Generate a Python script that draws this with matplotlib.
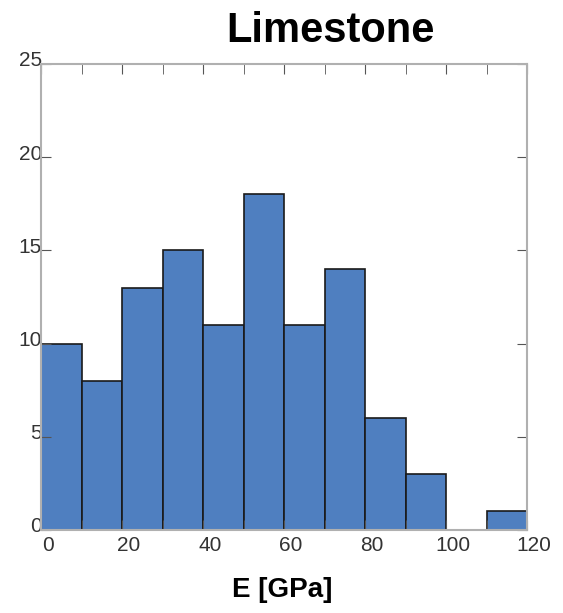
import matplotlib
matplotlib.use("Agg")
import matplotlib.pyplot as plt
from matplotlib.transforms import ScaledTranslation
import numpy as np

plt.rcParams['font.family'] = ['Liberation Sans', 'DejaVu Sans']

bin_edges = [0, 10, 20, 30, 40, 50, 60, 70, 80, 90, 100, 110, 120]
counts = [10, 8, 13, 15, 11, 18, 11, 14, 6, 3, 0, 1]
xticks = [0, 20, 40, 60, 80, 100, 120]
yticks = [0, 5, 10, 15, 20, 25]

W, H = 563, 613
fig = plt.figure(figsize=(W / 100, H / 100), dpi=100)
ax = fig.add_axes([41 / W, 1 - 530 / H, 486 / W, 466 / H])

ax.hist(bin_edges[:-1], bins=bin_edges, weights=counts,
        color='#4f7fc0', edgecolor='#1a1a1a', linewidth=1.2)

ax.set_xlim(0, 120)
ax.set_ylim(0, 25)
ax.set_xticks(xticks)
ax.set_yticks(yticks)
ax.set_xticks(np.arange(0, 121, 10), minor=True)
ax.tick_params(which='both', direction='in', top=True, right=True,
               labelsize=15, labelcolor='#333333', color='#555555', length=7)
ax.tick_params(axis='x', pad=4)
ax.tick_params(axis='y', pad=0)
for s in ax.spines.values():
    s.set_color('#b0b0b0')
    s.set_linewidth(1.5)

for lab in ax.get_xticklabels():
    lab.set_transform(lab.get_transform() + ScaledTranslation(7 / 100, 0, fig.dpi_scale_trans))
for lab in ax.get_yticklabels():
    lab.set_transform(lab.get_transform() + ScaledTranslation(1 / 100, 5 / 100, fig.dpi_scale_trans))

fig.text(330 / W, 1 - 42 / H, 'Limestone', fontsize=30, fontweight='bold',
         ha='center', va='baseline')
ax.set_xlabel('E [GPa]', fontsize=20, fontweight='bold')
ax.xaxis.set_label_coords((282 - 41) / 486, (530 - 577) / 466)

fig.savefig('out.png', dpi=100)
